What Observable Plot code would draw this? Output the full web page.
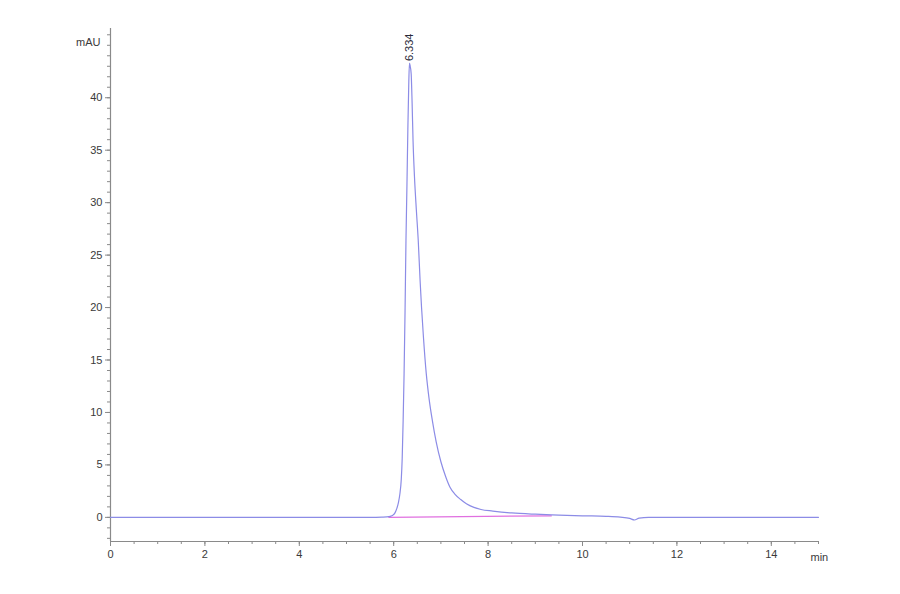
<!DOCTYPE html>
<html>
<head>
<meta charset="utf-8">
<script src="https://cdn.jsdelivr.net/npm/d3@7"></script>
<script src="https://cdn.jsdelivr.net/npm/@observablehq/plot@0.6"></script>
<style>
  html, body { margin: 0; padding: 0; background: #fff; }
  #chart { width: 900px; height: 594px; }
  svg { font-family: "Liberation Sans", Arial, sans-serif; }
</style>
</head>
<body>
<div id="chart"></div>
<script>
// Retention time (min) and absorbance (mAU)
const time = [0, 1, 2, 3, 4, 5, 5.5, 5.75, 5.85, 5.93, 5.98, 6.03, 6.07, 6.1, 6.13, 6.16, 6.18, 6.2, 6.22, 6.24, 6.26, 6.28, 6.3, 6.32, 6.334, 6.35, 6.37, 6.39, 6.41, 6.44, 6.48, 6.52, 6.56, 6.59, 6.63, 6.69, 6.75, 6.82, 6.9, 7.0, 7.1, 7.19, 7.3, 7.42, 7.54, 7.7, 7.85, 8.1, 8.5, 9.0, 9.5, 10.0, 10.5, 10.8, 11.0, 11.1, 11.2, 11.4, 12, 13, 14, 15];
const absorbance = [0, 0, 0, 0, 0, 0, 0, 0.02, 0.04, 0.1, 0.2, 0.45, 0.9, 1.4, 2.2, 3.6, 5.6, 9.2, 13.7, 19.5, 26.4, 31.5, 37, 41.5, 43.3, 43.0, 42.3, 39.5, 35.9, 32.5, 29.3, 26.4, 22.5, 20, 17.2, 13.7, 11.3, 9.2, 7.2, 5.3, 3.9, 2.9, 2.2, 1.7, 1.3, 0.95, 0.75, 0.6, 0.42, 0.3, 0.22, 0.15, 0.1, 0.02, -0.1, -0.25, -0.08, 0, 0, 0, 0, 0];

// Integration baseline (pink)
const baselineTime = [5.9, 9.34];
const baselineAbs = [0, 0.15];

// Peak annotation
const peakTime = [6.334];
const peakAbs = [43.3];
const peakLabel = ["6.334"];

// Axis ticks
const xTicks = [0, 2, 4, 6, 8, 10, 12, 14];
const xMinorTicks = d3.range(0, 15.01, 0.5);
const yTicks = [0, 5, 10, 15, 20, 25, 30, 35, 40];
const yMinorTicks = d3.range(-2, 46.01, 1);

const trace = time.map((t, i) => ({t, a: absorbance[i]}));
const base = baselineTime.map((t, i) => ({t, a: baselineAbs[i]}));
const peaks = peakTime.map((t, i) => ({t, a: peakAbs[i], label: peakLabel[i]}));

const axisColor = "#8a8a8a";
const textColor = "#3a3a3a";

const chart = Plot.plot({
  width: 900,
  height: 594,
  marginLeft: 110,
  marginRight: 82,
  marginTop: 28,
  marginBottom: 53,
  style: {fontFamily: "'Liberation Sans', Arial, sans-serif", fontSize: "11px", color: textColor, background: "#fff"},
  x: {domain: [0, 15], axis: null, label: null},
  y: {domain: [-2.3, 46.6], axis: null, label: null},
  marks: [
    Plot.ruleX([0], {stroke: axisColor, strokeWidth: 1.2}),
    Plot.ruleY([-2.3], {stroke: axisColor, strokeWidth: 1.2}),
    Plot.axisY({ticks: yMinorTicks, anchor: "left", tickSize: 3, text: null, label: null, stroke: axisColor}),
    Plot.axisY({ticks: yTicks, anchor: "left", tickSize: 5, tickPadding: 3, stroke: axisColor, fill: textColor, label: null, fontSize: 11}),
    Plot.axisX({ticks: xMinorTicks, anchor: "bottom", tickSize: 3, text: null, label: null, stroke: axisColor}),
    Plot.axisX({ticks: xTicks, anchor: "bottom", tickSize: 5, tickPadding: 4, stroke: axisColor, fill: textColor, label: null, fontSize: 11}),
    Plot.line(base, {x: "t", y: "a", stroke: "#e070e0", strokeWidth: 1.3}),
    Plot.line(trace, {x: "t", y: "a", stroke: "#8c8ce6", strokeWidth: 1.2, curve: "monotone-x"}),
    Plot.text(peaks, {x: "t", y: "a", text: "label", rotate: -90, textAnchor: "start", dy: -2, fill: "#2a2a3a", fontSize: 11}),
    Plot.text(["mAU"], {frameAnchor: "top-left", dx: -10, dy: 10, textAnchor: "end", fill: textColor, fontSize: 11}),
    Plot.text(["min"], {frameAnchor: "bottom-right", dx: -8, dy: 19, textAnchor: "start", fill: textColor, fontSize: 11})
  ]
});

document.getElementById("chart").appendChild(chart);
</script>
</body>
</html>
